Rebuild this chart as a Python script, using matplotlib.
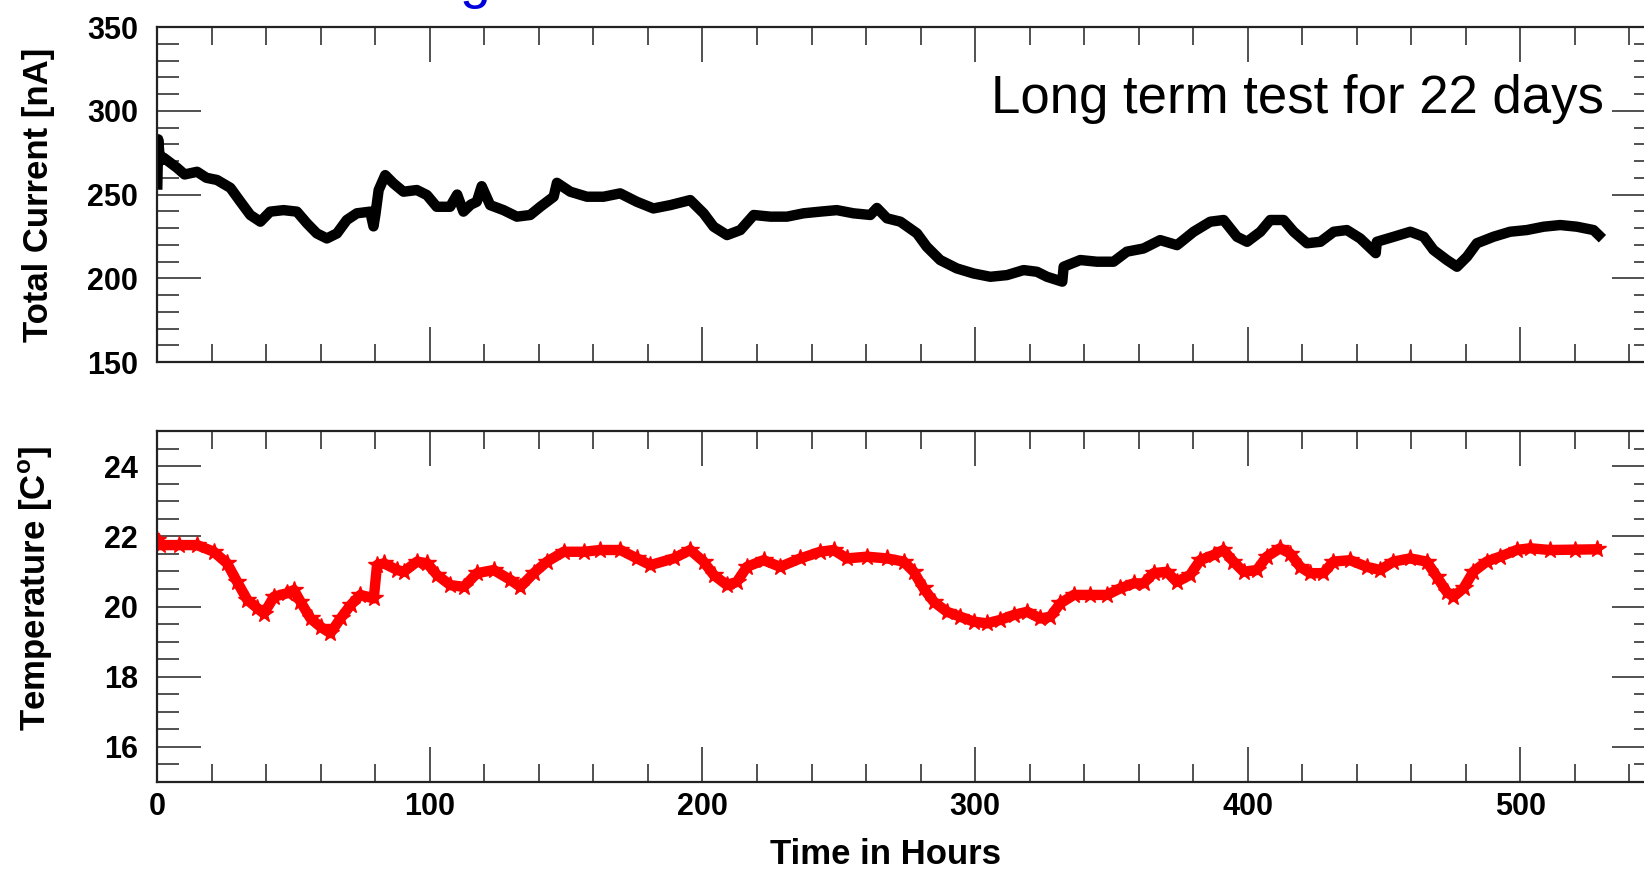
import matplotlib
matplotlib.use("Agg")
import matplotlib.pyplot as plt
from matplotlib.ticker import MultipleLocator

plt.rcParams['font.family'] = ['Liberation Sans', 'DejaVu Sans']
plt.rcParams['mathtext.fontset'] = 'custom'
plt.rcParams['mathtext.rm'] = 'Liberation Sans:bold'
plt.rcParams['mathtext.bf'] = 'Liberation Sans:bold'

# total current [nA] vs time [h]
cur_hours = [0, 0.3, 1, 2.3, 7.2, 10, 14.6, 18, 21.9, 26.8, 30.5, 34.1, 37.8,
             41.4, 46.3, 51.2, 54.9, 58.5, 62.2, 65.9, 69.5, 73.2, 78.1, 79.3, 80,
             81.2, 83.6, 86.6, 90.3, 95.2, 98.9, 102.5, 107.4, 110, 112.3, 115,
             117.2, 119, 122.1, 127, 131.9, 136.8, 140.5, 145.4, 146.6, 151.5, 157.6,
             163.7, 169.8, 175.9, 182, 188.2, 195.5, 200.4, 204.1, 209, 213.9,
             218.8, 224.9, 231, 237.1, 243.2, 249.3, 255.4, 261.6, 264, 267.7, 272.6,
             278.7, 282.3, 287.2, 293.3, 299.4, 305.6, 311.7, 317.8, 322.7, 326.4,
             332, 332.5, 338.6, 344.7, 350.8, 355.7, 361.8, 367.9, 374.1, 380.2, 386.3,
             391.2, 396.1, 399.8, 404.7, 408.3, 413.2, 416.9, 421.8, 426.7, 431.6,
             436.4, 441.3, 447, 447.4, 453.6, 459.7, 464.6, 468.2, 473.1, 476.8, 480.5,
             484.1, 490.2, 496.3, 502.4, 508.6, 514.7, 520.8, 526.9, 528.8]
current = [256, 283, 270, 272, 266, 262, 263.6, 260, 258.7, 254, 245.7, 237.8,
           233.8, 239.8, 240.7, 239.8, 232.8, 226.8, 223.8, 226.8, 234.8, 238.8,
           239.8, 231, 238, 252.7, 261.6, 256.7, 251.7, 252.7, 249.7, 242.7, 242.7,
           250, 239.8, 244, 245.7, 255, 243.7, 240.7, 236.8, 237.8, 242.7, 248.7,
           257, 251.7, 248.7, 248.7, 250.7, 245.7, 241.7, 243.7, 246.7, 238.8, 230.8,
           225.8, 228.8, 237.8, 236.8, 236.8, 238.8, 239.8, 240.7, 238.8, 237.8, 242,
           235.8, 233.8, 226.8, 218.8, 210.9, 205.9, 202.9, 200.9, 201.9, 204.9,
           203.9, 200.9, 198, 206.9, 210.9, 209.9, 209.9, 215.9, 217.8, 222.8, 219.8,
           227.8, 233.8, 234.8, 224.8, 221.8, 227.8, 234.8, 234.8, 227.8, 220.9,
           221.8, 227.8, 228.8, 223.8, 215, 221.8, 224.8, 227.8, 224.8, 216.9, 210.9,
           206.9, 212.9, 220.9, 224.8, 227.8, 228.8, 230.8, 231.8, 230.8, 228.8,
           225.8]

# temperature [C] vs time [h]
temp_hours = [0, 1, 8, 14.6, 20.7, 25.6, 29.3, 33, 36.7, 39.1, 42.8, 47.7, 50.1,
              52.5, 56.2, 59.9, 63.5, 67.2, 70.9, 74.5, 79.4, 80.6, 83.1, 88, 90.4,
              95.3, 99, 102.6, 107.5, 112.4, 117.3, 123.4, 129.5, 133.2, 138.1, 143,
              149.1, 156.4, 162.5, 169.9, 176, 180.9, 189.4, 195.5, 200.4, 204.1,
              209, 212.6, 216.3, 222.4, 228.5, 235.9, 243.2, 248.1, 253, 260.3,
              267.7, 273.8, 277.5, 281.1, 284.8, 289.7, 294.6, 299.5, 304.4, 309.3,
              314.2, 319.1, 324, 327.6, 331.3, 336.2, 342.3, 348.4, 353.3, 358.2,
              361.8, 365.5, 370.4, 374, 378.9, 382.6, 387.5, 391.1, 394.8, 398.5,
              403.4, 407, 411.9, 415.6, 419.3, 422.9, 427.8, 431.5, 437.6, 443.7,
              448.6, 453.5, 459.6, 465.7, 469.4, 473, 475.5, 479.2, 482.8, 487.7,
              492.6, 498.7, 503.6, 510.9, 520, 528.1]
temperature = [21.9, 21.75, 21.75, 21.75, 21.56, 21.23, 20.7, 20.19, 19.95, 19.8,
               20.28, 20.38, 20.47, 20.14, 19.66, 19.42, 19.24, 19.66, 20.04, 20.33,
               20.23, 21.18, 21.23, 21.04, 20.99, 21.28, 21.23, 20.9, 20.61, 20.56,
               20.95, 21.04, 20.76, 20.56, 20.95, 21.28, 21.56, 21.56, 21.61, 21.61,
               21.37, 21.18, 21.37, 21.61, 21.28, 20.9, 20.61, 20.7, 21.13, 21.32,
               21.13, 21.37, 21.56, 21.61, 21.37, 21.42, 21.37, 21.28, 20.99, 20.52,
               20.14, 19.85, 19.71, 19.57, 19.52, 19.62, 19.76, 19.85, 19.66, 19.71,
               20.09, 20.33, 20.33, 20.33, 20.52, 20.66, 20.66, 20.95, 20.99, 20.7,
               20.9, 21.32, 21.47, 21.61, 21.28, 20.99, 21.04, 21.42, 21.66, 21.51,
               21.13, 20.95, 20.95, 21.28, 21.32, 21.13, 21.04, 21.28, 21.37, 21.28,
               20.85, 20.42, 20.28, 20.52, 20.99, 21.28, 21.42, 21.61, 21.66, 21.61,
               21.62, 21.63]


def style_axes(ax, ymajor, yminor):
    ax.set_xlim(0, 550)
    ax.xaxis.set_major_locator(MultipleLocator(100))
    ax.xaxis.set_minor_locator(MultipleLocator(20))
    ax.yaxis.set_major_locator(MultipleLocator(ymajor))
    ax.yaxis.set_minor_locator(MultipleLocator(yminor))
    ax.tick_params(which='both', direction='in', top=True, right=True,
                   color='#222222', width=1.1)
    ax.tick_params(axis='x', which='major', length=25, pad=7)
    ax.tick_params(axis='x', which='minor', length=13)
    ax.tick_params(axis='y', which='major', length=32, pad=14)
    ax.tick_params(axis='y', which='minor', length=16)
    for sp in ax.spines.values():
        sp.set_linewidth(1.6)
        sp.set_color('#222222')
    for lab in ax.get_xticklabels() + ax.get_yticklabels():
        lab.set_fontsize(22)
        lab.set_fontweight('bold')


fig = plt.figure(figsize=(16.44, 8.73), dpi=100)
ax1 = fig.add_axes([0.0957, 0.5853, 0.9119, 0.3837])
ax2 = fig.add_axes([0.0957, 0.1042, 0.9119, 0.4021])

ax1.plot(cur_hours, current, color='black', lw=7.5)
ax1.set_ylim(150, 350)
style_axes(ax1, 50, 10)
ax1.tick_params(axis='x', labelbottom=False)
ax1.set_ylabel('Total Current [nA]', fontsize=25, fontweight='bold')
ax1.yaxis.set_label_coords(-0.068, 0.5)
ax1.text(530.7, 298.8, 'Long term test for 22 days', fontsize=38,
         ha='right', va='baseline')

ax2.plot(temp_hours, temperature, color='red', lw=7.5, marker='*', ms=13,
         mec='red', mfc='red')
ax2.set_ylim(15, 25)
style_axes(ax2, 2, 0.5)
ax2.set_ylabel(r'Temperature [C$^\mathbf{o}$]', fontsize=25, fontweight='bold')
ax2.yaxis.set_label_coords(-0.068, 0.55)
ax2.set_xlabel('Time in Hours', fontsize=25, fontweight='bold')
ax2.xaxis.set_label_coords(0.486, -0.16)

# bit of a blue heading cut off by the top edge
fig.text(0.2798, 1.003, 'g', color='#0000dd', fontsize=40, va='baseline')

fig.savefig('out.png', dpi=100)
